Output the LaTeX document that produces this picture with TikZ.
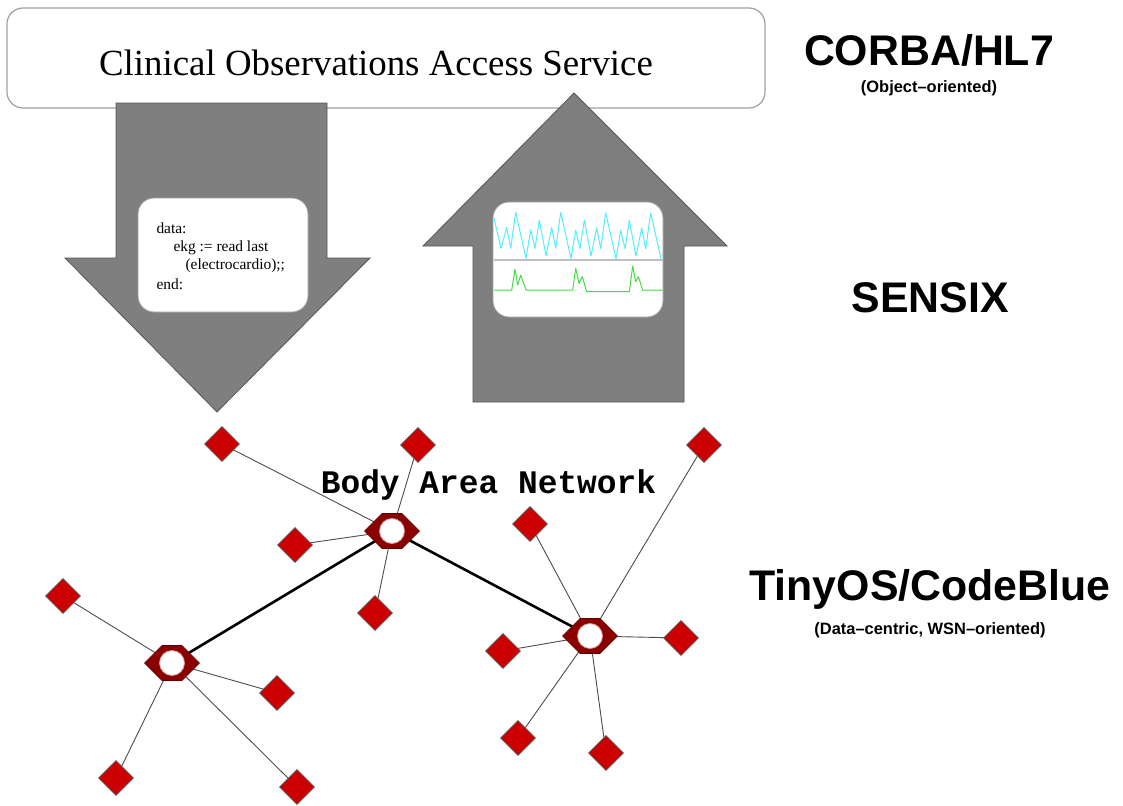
\documentclass[tikz,border=0pt]{standalone}
\usepackage{fontspec}
\setmainfont{Liberation Serif}
\setsansfont{Liberation Sans}
\setmonofont{Liberation Mono}
\usetikzlibrary{shapes.geometric,calc}
\definecolor{arrowgray}{HTML}{7F7F7F}
\definecolor{edgegray}{HTML}{555555}
\definecolor{boxgray}{HTML}{A0A0A0}
\definecolor{nodered}{HTML}{CC0000}
\definecolor{hubred}{HTML}{8B0000}
\definecolor{wavecyan}{HTML}{55EEFF}
\definecolor{wavegreen}{HTML}{44DD44}
\tikzset{
  bigarrow/.style={fill=arrowgray, draw=edgegray, line width=0.8bp},
  innerbox/.style={fill=white, draw=boxgray, line width=0.8bp, rounded corners=16bp},
  sensor/.style={diamond, fill=nodered, draw=edgegray, line width=0.6bp, minimum width=35bp, minimum height=35bp, inner sep=0pt},
  hubcore/.style={circle, fill=white, draw=hubred!40, line width=0.8bp, minimum size=25bp, inner sep=0pt},
  hubhex/.style={fill=hubred, draw=hubred!70!black, line width=0.6bp},
  thinlink/.style={draw=black!70, line width=0.9bp},
  thicklink/.style={draw=black, line width=2.6bp},
  codeline/.style={anchor=base west, font=\fontsize{15.5}{19}\selectfont},
  biglabel/.style={font=\sffamily\bfseries\fontsize{43}{48}\selectfont, anchor=base},
  smalllabel/.style={font=\sffamily\bfseries\fontsize{16.5}{19}\selectfont, anchor=base},
  banlabel/.style={anchor=base, font=\ttfamily\bfseries\fontsize{33}{36}\selectfont},
}
\begin{document}
\begin{tikzpicture}[x=1bp,y=-1bp]
\useasboundingbox (0,0) rectangle (1123,806);
% top service box
\node[draw=boxgray, line width=1.2bp, rounded corners=16bp, minimum width=758bp, minimum height=100bp, inner sep=0pt] (cos) at (386,58) {};
\node[anchor=base, font=\fontsize{37}{40}\selectfont] (costext) at (376,75.5) {Clinical Observations Access Service};
% down arrow
\filldraw[bigarrow] (116,103) -- (327,103) -- (327,258) -- (370,258) -- (217,412) -- (65,258) -- (116,258) -- cycle;
\node[innerbox, minimum width=170bp, minimum height=114bp] (query) at (223,255) {};
\node[codeline] (q1) at (153,233) {data:};
\node[codeline] (q2) at (170,251) {ekg := read last};
\node[codeline] (q3) at (182,269) {(electrocardio);;};
\node[codeline] (q4) at (153,289) {end:};
% up arrow
\filldraw[bigarrow] (574,93) -- (727,246) -- (684,246) -- (684,402) -- (473,402) -- (473,246) -- (423,246) -- cycle;
\node[innerbox, minimum width=170bp, minimum height=115bp] (scope) at (578,259.5) {};
\draw[draw=black!25, line width=2bp] (493.5,260) -- (662.5,260);
\draw[wavecyan, line width=1bp, line join=round]
  (494,218) -- (501,248.3) -- (506.7,227.7) -- (510.7,248.3) -- (515.7,212.3)
  \foreach \p in {1,2,3} {
    -- ++(10.3,46) -- ++(4.7,-28.3) -- ++(4.3,18.3) -- ++(4.3,-28.3) -- ++(6.7,35.7) -- ++(5.7,-28) -- ++(4,20.6) -- ++(5,-35.8)
  }
  -- ++(10.3,46);
\draw[wavegreen, line width=1bp, line join=round]
  (494,290) -- (511.7,290) -- (515,269.3) -- (517.7,285) -- (520.7,275) -- (526,290)
  -- (572.7,290) -- (575.7,268.3) -- (579,283.3) -- (582.3,276.7) -- (586.7,291.7)
  -- (629.3,291.7) -- (632.7,266) -- (635.7,281.7) -- (638.3,276.7) -- (642.7,290) -- (662.7,290);
% right-hand labels
\node[biglabel] (corba) at (929,66) {CORBA/HL7};
\node[smalllabel] (corbasub) at (929,93) {(Object–oriented)};
\node[biglabel] (sensix) at (930,312) {SENSIX};
\node[biglabel] (tinyos) at (930,600) {TinyOS/CodeBlue};
\node[smalllabel] (tinyossub) at (930,634) {(Data–centric, WSN–oriented)};
% hubs (positions)
\coordinate (A) at (392,531);
\coordinate (B) at (172,663);
\coordinate (C) at (590,636);
% sensors
\node[sensor] (a1) at (222,444) {};
\node[sensor] (a2) at (418,445) {};
\node[sensor] (a3) at (295,545) {};
\node[sensor] (a4) at (375,613) {};
\node[sensor] (b1) at (63,596) {};
\node[sensor] (b2) at (277,693) {};
\node[sensor] (b3) at (116,778) {};
\node[sensor] (b4) at (297,787) {};
\node[sensor] (c1) at (704,445) {};
\node[sensor] (c2) at (530,524) {};
\node[sensor] (c3) at (503,651) {};
\node[sensor] (c4) at (681,638) {};
\node[sensor] (c5) at (518,738) {};
\node[sensor] (c6) at (606,753) {};
% network label
\node[banlabel] (ban) at (488.5,493) {Body Area Network};
% links
\foreach \s in {a1,a2,a3,a4} \draw[thinlink] (\s) -- (A);
\foreach \s in {b1,b2,b3,b4} \draw[thinlink] (\s) -- (B);
\foreach \s in {c1,c2,c3,c4,c5,c6} \draw[thinlink] (\s) -- (C);
\draw[thicklink] (A) -- (B);
\draw[thicklink] (A) -- (C);
% hubs
\foreach \h in {A,B,C} {
  \filldraw[hubhex] (\h) ++(-27.5,0) -- ++(17.5,-17.5) -- ++(20,0) -- ++(17.5,17.5) -- ++(-17.5,17.5) -- ++(-20,0) -- cycle;
  \node[hubcore] (\h core) at (\h) {};
}
\end{tikzpicture}
\end{document}
